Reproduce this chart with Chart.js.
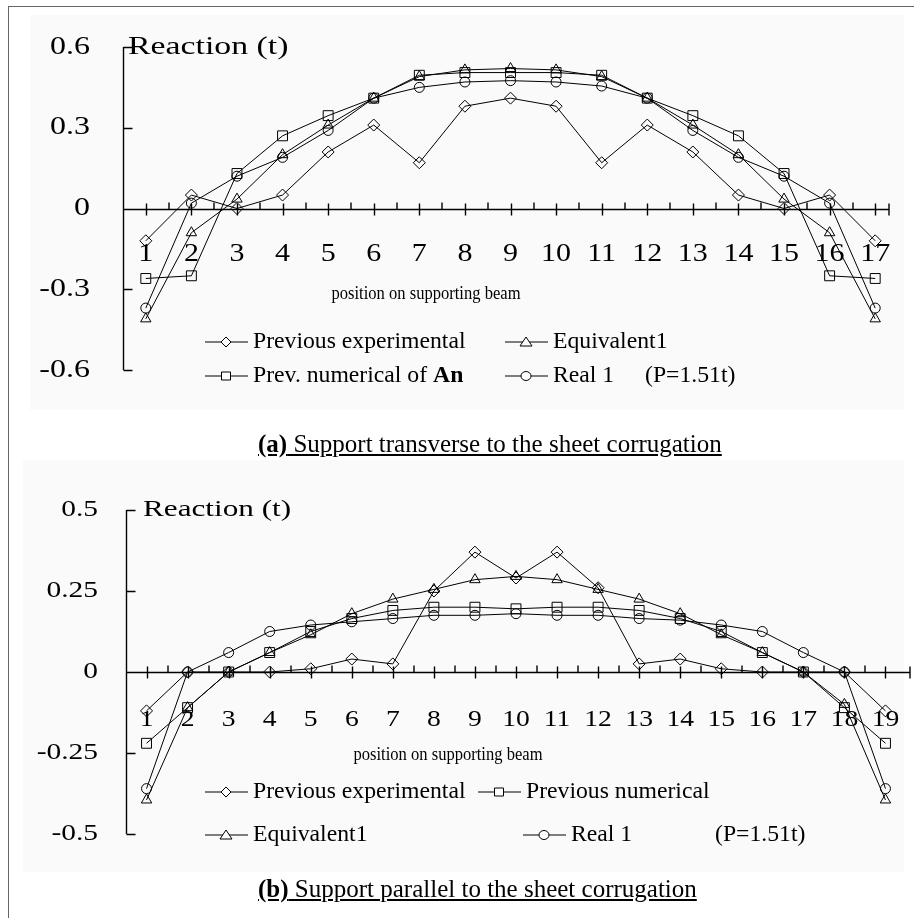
<!DOCTYPE html>
<html lang="en">
<head>
<meta charset="UTF-8">
<title>Reaction on supporting beam</title>
<script src="https://cdn.jsdelivr.net/npm/chart.js"></script>
<style>
  body { margin: 0; background: #fff; width: 914px; height: 918px; position: relative; overflow: hidden; font-family: "Liberation Serif", serif; }
  .frameTop { position: absolute; left: 8px; top: 6px; width: 906px; height: 1px; background: #666; }
  .frameLeft { position: absolute; left: 8px; top: 6px; width: 1px; height: 912px; background: #666; }
  .panel { position: absolute; background: #fafafa; }
  canvas { position: absolute; left: 0; }
  .caption { position: absolute; left: 258px; font-size: 25px; text-decoration: underline; color: #000; white-space: nowrap; }
</style>
</head>
<body>
<div class="frameTop"></div>
<div class="frameLeft"></div>
<div class="panel" style="left:30px;top:15px;width:874px;height:395px"></div>
<div class="panel" style="left:23px;top:460px;width:881px;height:412px"></div>
<canvas id="chartA" width="914" height="420" style="top:0"></canvas>
<canvas id="chartB" width="914" height="440" style="top:450px"></canvas>
<div class="caption" style="top:430px"><b>(a)</b> Support transverse to the sheet corrugation</div>
<div class="caption" style="top:875px"><b>(b)</b> Support parallel to the sheet corrugation</div>

<script>
// (a) support transverse to the corrugation
const positionsA = ['1','2','3','4','5','6','7','8','9','10','11','12','13','14','15','16','17'];
const prevExpA = [-0.12, 0.05, 0.0, 0.05, 0.21, 0.31, 0.17, 0.38, 0.41, 0.38, 0.17, 0.31, 0.21, 0.05, 0.0, 0.05, -0.12];
const prevNumA = [-0.26, -0.25, 0.13, 0.27, 0.345, 0.41, 0.495, 0.505, 0.505, 0.505, 0.495, 0.41, 0.345, 0.27, 0.13, -0.25, -0.26];
const equivA   = [-0.41, -0.09, 0.035, 0.2, 0.31, 0.41, 0.49, 0.515, 0.52, 0.515, 0.49, 0.41, 0.31, 0.2, 0.035, -0.09, -0.41];
const realA    = [-0.37, 0.02, 0.12, 0.19, 0.29, 0.41, 0.45, 0.47, 0.475, 0.47, 0.455, 0.41, 0.29, 0.19, 0.12, 0.02, -0.37];
const yTicksA  = [0.6, 0.3, 0, -0.3, -0.6];
const yLabelsA = ['0.6', '0.3', '0', '-0.3', '-0.6'];

// (b) support parallel to the corrugation
const positionsB = ['1','2','3','4','5','6','7','8','9','10','11','12','13','14','15','16','17','18','19'];
const prevExpB = [-0.12, 0, 0, 0, 0.01, 0.04, 0.025, 0.25, 0.37, 0.29, 0.37, 0.26, 0.025, 0.04, 0.01, 0, 0, 0, -0.12];
const prevNumB = [-0.22, -0.11, 0, 0.06, 0.125, 0.165, 0.19, 0.2, 0.2, 0.195, 0.2, 0.2, 0.19, 0.165, 0.125, 0.06, 0, -0.11, -0.22];
const equivB   = [-0.395, -0.11, 0, 0.06, 0.115, 0.18, 0.225, 0.255, 0.285, 0.295, 0.285, 0.255, 0.225, 0.18, 0.115, 0.06, 0, -0.1, -0.395];
const realB    = [-0.36, 0, 0.06, 0.125, 0.145, 0.155, 0.165, 0.175, 0.175, 0.18, 0.175, 0.175, 0.165, 0.16, 0.145, 0.125, 0.06, 0, -0.36];
const yTicksB  = [0.5, 0.25, 0, -0.25, -0.5];
const yLabelsB = ['0.5', '0.25', '0', '-0.25', '-0.5'];

const SERIF = '"Liberation Serif", "Times New Roman", serif';

function series(label, data, style, radius) {
  return {
    label: label,
    data: data,
    borderColor: '#000',
    borderWidth: 1,
    pointStyle: style,
    pointRadius: radius,
    pointBorderWidth: 1,
    pointBorderColor: '#000',
    pointBackgroundColor: 'rgba(255,255,255,0)',
    tension: 0,
    fill: false
  };
}

// text squeezed/stretched horizontally like the original scan
function wideText(ctx, txt, x, y, size, sx, align, bold) {
  ctx.save();
  ctx.font = (bold ? 'bold ' : '') + size + 'px ' + SERIF;
  ctx.textBaseline = 'middle';
  ctx.textAlign = align || 'left';
  ctx.translate(x, y);
  ctx.scale(sx, 1);
  ctx.fillText(txt, 0, 0);
  const w = ctx.measureText(txt).width * sx;
  ctx.restore();
  return w;
}

function legendMarker(ctx, style, x, y) {
  ctx.beginPath();
  if (style === 'rectRot') {
    ctx.moveTo(x, y - 5); ctx.lineTo(x + 5, y); ctx.lineTo(x, y + 5); ctx.lineTo(x - 5, y); ctx.closePath();
  } else if (style === 'rect') {
    ctx.rect(x - 4.5, y - 4, 9, 8);
  } else if (style === 'triangle') {
    ctx.moveTo(x, y - 5); ctx.lineTo(x + 6, y + 4); ctx.lineTo(x - 6, y + 4); ctx.closePath();
  } else {
    ctx.ellipse(x, y, 5, 4.5, 0, 0, Math.PI * 2);
  }
  ctx.fillStyle = '#fff';
  ctx.fill();
  ctx.stroke();
}

const axesPlugin = {
  id: 'axesPlugin',
  beforeDatasetsDraw(chart, args, o) {
    const ctx = chart.ctx, a = chart.chartArea;
    const xs = chart.scales.x, ys = chart.scales.y;
    const y0 = Math.round(ys.getPixelForValue(0)) + 0.5;
    const left = Math.round(a.left) + 0.5;
    ctx.save();
    ctx.strokeStyle = '#000';
    ctx.lineWidth = 1.4;
    ctx.beginPath();
    ctx.moveTo(left, a.top); ctx.lineTo(left, a.bottom);
    o.yTicks.forEach(v => {
      const p = Math.round(ys.getPixelForValue(v)) + 0.5;
      ctx.moveTo(left, p); ctx.lineTo(left + 9, p);
    });
    ctx.moveTo(left, y0); ctx.lineTo(o.axisEnd, y0);
    const n = chart.data.labels.length;
    const step = xs.getPixelForValue(1) - xs.getPixelForValue(0);
    for (let i = 0; i < n; i++) {
      const px = Math.round(xs.getPixelForValue(i)) + 0.5;
      ctx.moveTo(px, y0 - 6); ctx.lineTo(px, y0 + 6);
      if (i < n - 1) {
        const bx = Math.round(px + step / 2);
        ctx.moveTo(bx, y0 - 7); ctx.lineTo(bx, y0);
      }
    }
    ctx.moveTo(o.axisEnd, y0 - 6); ctx.lineTo(o.axisEnd, y0 + 6);
    ctx.stroke();
    ctx.restore();
  },
  afterDraw(chart, args, o) {
    const ctx = chart.ctx;
    const xs = chart.scales.x, ys = chart.scales.y;
    const y0 = ys.getPixelForValue(0);
    ctx.save();
    ctx.fillStyle = '#000';
    ctx.strokeStyle = '#000';
    ctx.lineWidth = 1;

    // y tick labels
    o.yTicks.forEach((v, i) => {
      wideText(ctx, o.yLabels[i], o.yLabelRight, ys.getPixelForValue(v), o.tickSize, 1.28, 'right');
    });
    // x tick labels
    chart.data.labels.forEach((lab, i) => {
      wideText(ctx, lab, xs.getPixelForValue(i), y0 + o.xLabelGap, o.tickSize, 1.2, 'center');
    });
    // axis titles
    wideText(ctx, 'Reaction (t)', o.titleX, ys.getPixelForValue(o.yTicks[0]), o.tickSize + 1, 1.3, 'left');
    wideText(ctx, 'position on supporting beam', o.xTitle[0], o.xTitle[1], 18, 0.92, 'center');

    // legend
    o.legend.forEach(item => {
      ctx.beginPath();
      ctx.moveTo(item.x, item.y); ctx.lineTo(item.x + 43, item.y);
      ctx.stroke();
      legendMarker(ctx, item.style, item.x + 21, item.y);
      ctx.fillStyle = '#000';
      let w = wideText(ctx, item.text, item.x + 48, item.y, 23, 1.03, 'left');
      if (item.bold) {
        wideText(ctx, item.bold, item.x + 48 + w, item.y, 23, 1.03, 'left', true);
      }
    });
    wideText(ctx, '(P=1.51t)', o.note[0], o.note[1], 23, 1.03, 'left');
    ctx.restore();
  }
};

function makeChart(id, labels, exp, num, eq, real, numLabel, yMin, yMax, padding, extra) {
  const datasets = [
    series('Previous experimental', exp, 'rectRot', 6),
    series(numLabel, num, 'rect', 7),
    series('Equivalent1', eq, 'triangle', 6),
    series('Real 1', real, 'circle', 5)
  ];
  return new Chart(document.getElementById(id), {
    type: 'line',
    data: { labels: labels, datasets: datasets },
    options: {
      responsive: false,
      animation: false,
      layout: { padding: padding },
      scales: {
        x: { type: 'category', offset: true, display: false },
        y: { min: yMin, max: yMax, display: false }
      },
      plugins: {
        legend: { display: false },
        tooltip: { enabled: false },
        axesPlugin: extra
      }
    },
    plugins: [axesPlugin]
  });
}

makeChart('chartA', positionsA, prevExpA, prevNumA, equivA, realA, 'Prev. numerical of An', -0.6, 0.6,
  { left: 123, right: 16, top: 47, bottom: 50 },
  {
    yTicks: yTicksA, yLabels: yLabelsA, yLabelRight: 90, tickSize: 25, xLabelGap: 46,
    axisEnd: 889, titleX: 128, xTitle: [426, 294],
    legend: [
      { x: 205, y: 342, style: 'rectRot', text: 'Previous experimental' },
      { x: 505, y: 342, style: 'triangle', text: 'Equivalent1' },
      { x: 205, y: 376, style: 'rect', text: 'Prev. numerical of ', bold: 'An' },
      { x: 505, y: 376, style: 'circle', text: 'Real 1' }
    ],
    note: [645, 376]
  });

makeChart('chartB', positionsB, prevExpB, prevNumB, equivB, realB, 'Previous numerical', -0.5, 0.5,
  { left: 126, right: 3, top: 60, bottom: 56 },
  {
    yTicks: yTicksB, yLabels: yLabelsB, yLabelRight: 98, tickSize: 23, xLabelGap: 48,
    axisEnd: 910, titleX: 143, xTitle: [448, 305],
    legend: [
      { x: 205, y: 342, style: 'rectRot', text: 'Previous experimental' },
      { x: 478, y: 342, style: 'rect', text: 'Previous numerical' },
      { x: 205, y: 385, style: 'triangle', text: 'Equivalent1' },
      { x: 523, y: 385, style: 'circle', text: 'Real 1' }
    ],
    note: [715, 385]
  });
</script>
</body>
</html>
